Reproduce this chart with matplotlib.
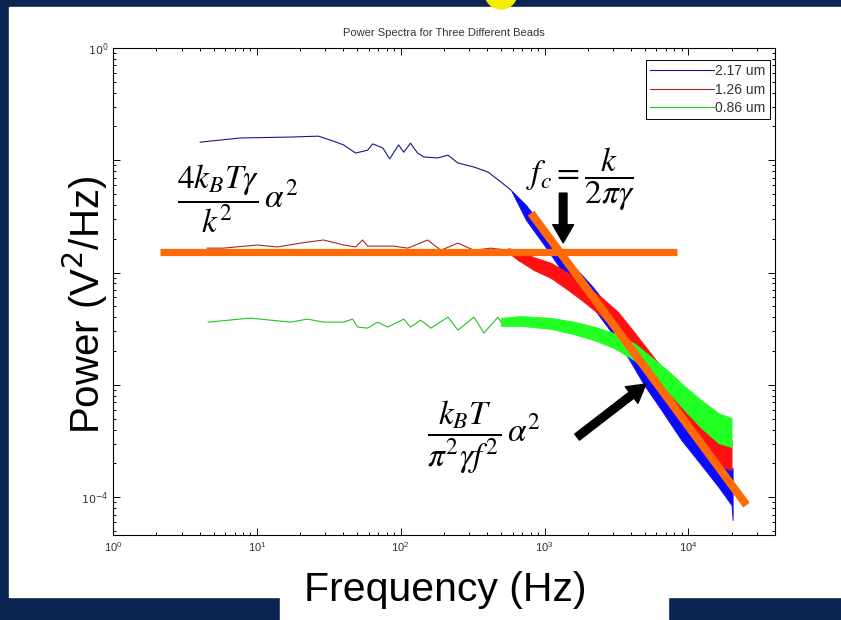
import matplotlib
matplotlib.use("Agg")
import matplotlib.pyplot as plt
from matplotlib.patches import Rectangle, Ellipse

plt.rcParams["font.family"] = ["Liberation Sans", "DejaVu Sans"]

# ---- data (Hz, V^2/Hz) ----
# 2.17 um bead: thin low-frequency trace, then the noisy band
blue_f = [4.04, 7.67, 17.1, 26.8, 34.1, 40.1, 48.6, 58.9, 63.8, 75.0, 83.8,
          96.8, 105, 117, 131, 145, 181, 213, 250, 323, 404, 498, 584]
blue_p = [0.145, 0.158, 0.161, 0.164, 0.148, 0.137, 0.116, 0.123, 0.140,
          0.129, 0.103, 0.137, 0.118, 0.142, 0.116, 0.107, 0.105, 0.111,
          0.0946, 0.0871, 0.0786, 0.0640, 0.0543]
blue_band_f = [584, 743, 993, 1460, 2110, 2910, 3820, 4930, 6490, 8940,
               12300, 16200, 19950, 20300]
blue_band_hi = [0.0543, 0.0399, 0.0249, 0.0129, 0.00774, 0.00463, 0.00277,
                0.00166, 0.000995, 0.000596, 0.000357, 0.000237, 0.000181,
                0.000181]
blue_band_lo = [0.0543, 0.0294, 0.0176, 0.00857, 0.00513, 0.00295, 0.00173,
                0.000995, 0.000596, 0.000322, 0.000193, 0.000123, 0.0000849,
                0.0000624]

# 1.26 um bead
red_f = [4.52, 5.84, 10.1, 13.9, 20.1, 29.1, 40.1, 48.6, 54.3, 58.9, 89.4,
         112, 154, 190, 250, 323, 424, 557]
red_p = [0.0165, 0.0165, 0.0176, 0.0169, 0.0183, 0.0195, 0.0176, 0.0169,
         0.0195, 0.0172, 0.0172, 0.0165, 0.0195, 0.0158, 0.0183, 0.0158,
         0.0165, 0.0158]
red_band_f = [557, 654, 845, 1110, 1460, 1885, 2480, 3250, 4200, 5520, 7260,
              9380, 12300, 16200, 19950]
red_band_hi = [0.0165, 0.0158, 0.0137, 0.0122, 0.0099, 0.00774, 0.00605,
               0.00445, 0.00295, 0.00188, 0.00120, 0.000731, 0.000438,
               0.000322, 0.000322]
red_band_lo = [0.0152, 0.0129, 0.0105, 0.00893, 0.00698, 0.00546, 0.00410,
               0.00295, 0.00204, 0.00130, 0.000810, 0.000485, 0.000279,
               0.000193, 0.000174]

# 0.86 um bead
green_f = [4.59, 9.0, 17.1, 22.5, 29.1, 40.1, 46.3, 50.2, 58.9, 69.2, 81.2,
           95.3, 105, 117, 138, 162, 213, 250, 323, 379, 474, 498]
green_p = [0.00362, 0.00393, 0.00362, 0.00385, 0.00362, 0.00362, 0.00385,
           0.00327, 0.00320, 0.00362, 0.00327, 0.00362, 0.00385, 0.00327,
           0.00377, 0.00320, 0.00401, 0.00307, 0.00401, 0.00289, 0.00401,
           0.00362]
green_band_f = [498, 686, 1110, 1610, 2210, 3050, 4200, 5520, 7260, 9380,
                12300, 16200, 19950]
green_band_hi = [0.00395, 0.00410, 0.00395, 0.00365, 0.00330, 0.00289,
                 0.00235, 0.00177, 0.00133, 0.000975, 0.000731, 0.000560,
                 0.000506]
green_band_lo = [0.00335, 0.00335, 0.00315, 0.00282, 0.00250, 0.00212,
                 0.00166, 0.00120, 0.000861, 0.000596, 0.000412, 0.000303,
                 0.000279]

labels = ["2.17 um", "1.26 um", "0.86 um"]

# orange guide lines: plateau level and high-frequency slope
plateau_f = [2.13, 8380]
plateau_p = [0.0152, 0.0152]
slope_f = [805, 25350]
slope_p = [0.0339, 0.000085]

NAVY = "#0b2452"
ORANGE = "#ff6a06"

fig = plt.figure(figsize=(8.41, 6.2), dpi=100, facecolor=NAVY)

# white slide panel, label box and the yellow bullet at the top
fig.patches.append(Rectangle((9 / 841, 23 / 620), 1, 590 / 620,
                             transform=fig.transFigure, color="white", zorder=-5))
fig.patches.append(Rectangle((280 / 841, 0), 388 / 841, 0.06,
                             transform=fig.transFigure, color="white", zorder=-5))
fig.patches.append(Ellipse((501 / 841, 1 + 7 / 620), 32 / 841, 32 / 620,
                           transform=fig.transFigure, color="#f4ee00", zorder=-4))

ax = fig.add_axes([113 / 841, 85 / 620, 662 / 841, 487 / 620])
ax.set_xscale("log")
ax.set_yscale("log")

ax.plot(blue_f, blue_p, color="#16168a", lw=0.8, label=labels[0])
ax.fill_between(blue_band_f, blue_band_lo, blue_band_hi, color="#0a0aff", lw=0.6)
ax.plot(red_f, red_p, color="#a8262a", lw=0.8, label=labels[1])
ax.fill_between(red_band_f, red_band_lo, red_band_hi, color="#ff1010", lw=0.6)
ax.plot(green_f, green_p, color="#22c422", lw=0.8, label=labels[2])
ax.fill_between(green_band_f, green_band_lo, green_band_hi, color="#22ff22", lw=0.6)

ax.plot(plateau_f, plateau_p, color=ORANGE, lw=5.2, solid_capstyle="butt")
ax.plot(slope_f, slope_p, color=ORANGE, lw=5.8, solid_capstyle="butt")

ax.set_xlim(1, 4e4)
ax.set_ylim(4.6e-5, 1)
ax.set_yticks([1, 1e-1, 1e-2, 1e-3, 1e-4])
ax.set_yticklabels(["$10^{0}$", "", "", "", "$10^{-4}$"])
ax.tick_params(which="both", direction="in", top=True, right=True,
               labelsize=8, labelcolor="#333333", width=0.7)
ax.tick_params(which="major", length=5)
ax.tick_params(which="minor", length=2.5)
for s in ax.spines.values():
    s.set_linewidth(0.8)

ax.set_title("Power Spectra for Three Different Beads", fontsize=8,
             color="#333333", pad=9)

leg = ax.legend(loc="upper right", bbox_to_anchor=(0.992, 0.975),
                borderaxespad=0, fontsize=10, handlelength=4.6,
                handletextpad=0.1, labelspacing=0.3, borderpad=0.3,
                fancybox=False, framealpha=1, edgecolor="black")
leg.get_frame().set_linewidth(0.7)
for t in leg.get_texts():
    t.set_color("#333333")

# equations
ax.text(0.188, 0.69, r"$\dfrac{4k_BT\gamma}{k^2}\,\alpha^2$", transform=ax.transAxes,
        fontsize=24, ha="center", va="center", math_fontfamily="stix")
ax.text(0.706, 0.73, r"$f_c=\dfrac{k}{2\pi\gamma}$", transform=ax.transAxes,
        fontsize=24, ha="center", va="center", math_fontfamily="stix")
ax.text(0.561, 0.20, r"$\dfrac{k_BT}{\pi^2\gamma f^2}\,\alpha^2$", transform=ax.transAxes,
        fontsize=24, ha="center", va="center", math_fontfamily="stix")

# arrows
arrow = dict(width=5.5, headwidth=15, headlength=13, shrink=0, color="black")
ax.annotate("", xy=(0.680, 0.600), xytext=(0.680, 0.702),
            xycoords="axes fraction", arrowprops=arrow)
ax.annotate("", xy=(0.805, 0.310), xytext=(0.701, 0.201),
            xycoords="axes fraction", arrowprops=arrow)

fig.text(85 / 841, 1 - 305 / 620, "Power (V$^2$/Hz)", rotation=90,
         fontsize=29, ha="center", va="center")
fig.text(445 / 841, 1 - 590 / 620, "Frequency (Hz)", fontsize=29.5,
         ha="center", va="center")

fig.savefig("out.png", dpi=100, facecolor=NAVY)
